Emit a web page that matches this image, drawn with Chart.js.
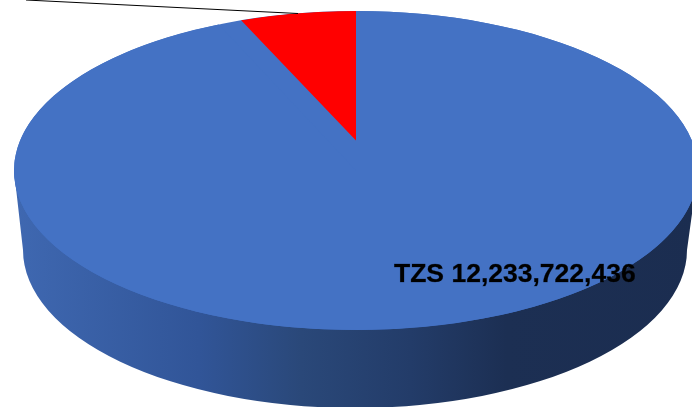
<!DOCTYPE html>
<html>
<head>
<meta charset="utf-8">
<style>
html,body{margin:0;padding:0;background:#fff;overflow:hidden}
canvas{display:block}
</style>
<script src="https://cdn.jsdelivr.net/npm/chart.js@4"></script>
</head>
<body>
<canvas id="c" width="692" height="407"></canvas>
<script>
const categories = ['Blue share', 'Red share'];
const values = [12233722436, 860000000];
const sliceColors = ['#4472C4', '#FF0000'];
const labelPrefix = 'TZS ';

// perspective of the top face
const top3d = {cx: 356, cy: 170.5, rx: 342, ry: 159.5, apexX: 356, apexY: 140.5};
const wall = {cx: 355, cy: 250, rx: 332, ry: 158};
const wallStops = [[0,'#3F68B1'],[0.27,'#315598'],[0.42,'#2A4879'],[0.58,'#233C69'],[0.72,'#1C2F53'],[1,'#1B2D50']];

// unit-circle to picture projection, chosen so that the circle lands on the top ellipse
const up = top3d.apexY - (top3d.cy - top3d.ry), down = (top3d.cy + top3d.ry) - top3d.apexY;
const k = (down - up) / (down + up), b = up * (1 + k), a = top3d.rx * Math.sqrt(1 - k * k);
function project(angle) {
  const u = Math.cos(angle), v = -Math.sin(angle), w = 1 + k * v;
  return {x: top3d.apexX + a * u / w, y: top3d.apexY - b * v / w};
}
function ellipsePath(ctx) {
  ctx.beginPath();
  ctx.ellipse(top3d.cx, top3d.cy, top3d.rx, top3d.ry, 0, 0, Math.PI * 2);
}

const pie3d = {
  id: 'pie3d',
  beforeDatasetsDraw(chart) {
    const ctx = chart.ctx;
    const meta = chart.getDatasetMeta(0);
    // side wall
    const g = ctx.createLinearGradient(top3d.cx - top3d.rx, 0, top3d.cx + top3d.rx, 0);
    wallStops.forEach(s => g.addColorStop(s[0], s[1]));
    ctx.save();
    ctx.fillStyle = g;
    ctx.beginPath();
    ctx.moveTo(top3d.cx - top3d.rx, top3d.cy);
    ctx.lineTo(wall.cx - wall.rx, wall.cy);
    ctx.ellipse(wall.cx, wall.cy, wall.rx, wall.ry, 0, Math.PI, 0, true);
    ctx.lineTo(top3d.cx + top3d.rx, top3d.cy);
    ctx.closePath();
    ctx.fill();
    // top face base
    ctx.fillStyle = sliceColors[0];
    ellipsePath(ctx);
    ctx.fill();
    ctx.restore();

    meta.data.forEach(el => {
      if (el.__wrapped) return;
      el.__wrapped = true;
      const proto = Object.getPrototypeOf(el);
      el.draw = function (c, area) {
        const R = this.outerRadius, x0 = this.x, y0 = this.y;
        const s = this.startAngle, e = this.endAngle;
        c.save();
        let A, B, C, D, E, F;
        if (e - s < Math.PI) {
          const p1 = project(s), p2 = project(e);
          const cs = Math.cos(s), ss = Math.sin(s), ce = Math.cos(e), se = Math.sin(e);
          const det = R * (cs * se - ss * ce);
          const d1x = p1.x - top3d.apexX, d1y = p1.y - top3d.apexY;
          const d2x = p2.x - top3d.apexX, d2y = p2.y - top3d.apexY;
          A = (d1x * se - d2x * ss) / det;
          C = (d2x * cs - d1x * ce) / det;
          B = (d1y * se - d2y * ss) / det;
          D = (d2y * cs - d1y * ce) / det;
          E = top3d.apexX - (A * x0 + C * y0);
          F = top3d.apexY - (B * x0 + D * y0);
          ellipsePath(c);
          c.clip();
        } else {
          A = top3d.rx / R; B = 0; C = 0; D = top3d.ry / R;
          E = top3d.cx - A * x0;
          F = top3d.cy - D * y0;
        }
        c.transform(A, B, C, D, E, F);
        proto.draw.call(this, c, area);
        c.restore();
      };
    });
  },
  afterDatasetsDraw(chart) {
    const ctx = chart.ctx;
    ctx.save();
    // leader line of the slice whose label falls off the picture
    ctx.strokeStyle = '#000';
    ctx.lineWidth = 1;
    ctx.beginPath();
    ctx.moveTo(26, 0);
    ctx.lineTo(298, 13.5);
    ctx.stroke();
    // data label
    const text = labelPrefix + values[0].toLocaleString('en-US');
    ctx.fillStyle = '#000';
    ctx.strokeStyle = 'rgba(0,0,0,0.5)';
    ctx.lineWidth = 0.5;
    ctx.font = 'bold 26.5px "Liberation Sans", Arial, sans-serif';
    ctx.textAlign = 'left';
    ctx.textBaseline = 'alphabetic';
    ctx.fillText(text, 394, 282);
    ctx.strokeText(text, 394, 282);
    ctx.restore();
  }
};

new Chart(document.getElementById('c'), {
  type: 'pie',
  data: {
    labels: categories,
    datasets: [{data: values, backgroundColor: sliceColors, borderWidth: 0, hoverOffset: 0}]
  },
  options: {
    responsive: false,
    animation: false,
    layout: {padding: 0},
    plugins: {legend: {display: false}, tooltip: {enabled: false}, title: {display: false}}
  },
  plugins: [pie3d]
});
</script>
</body>
</html>
